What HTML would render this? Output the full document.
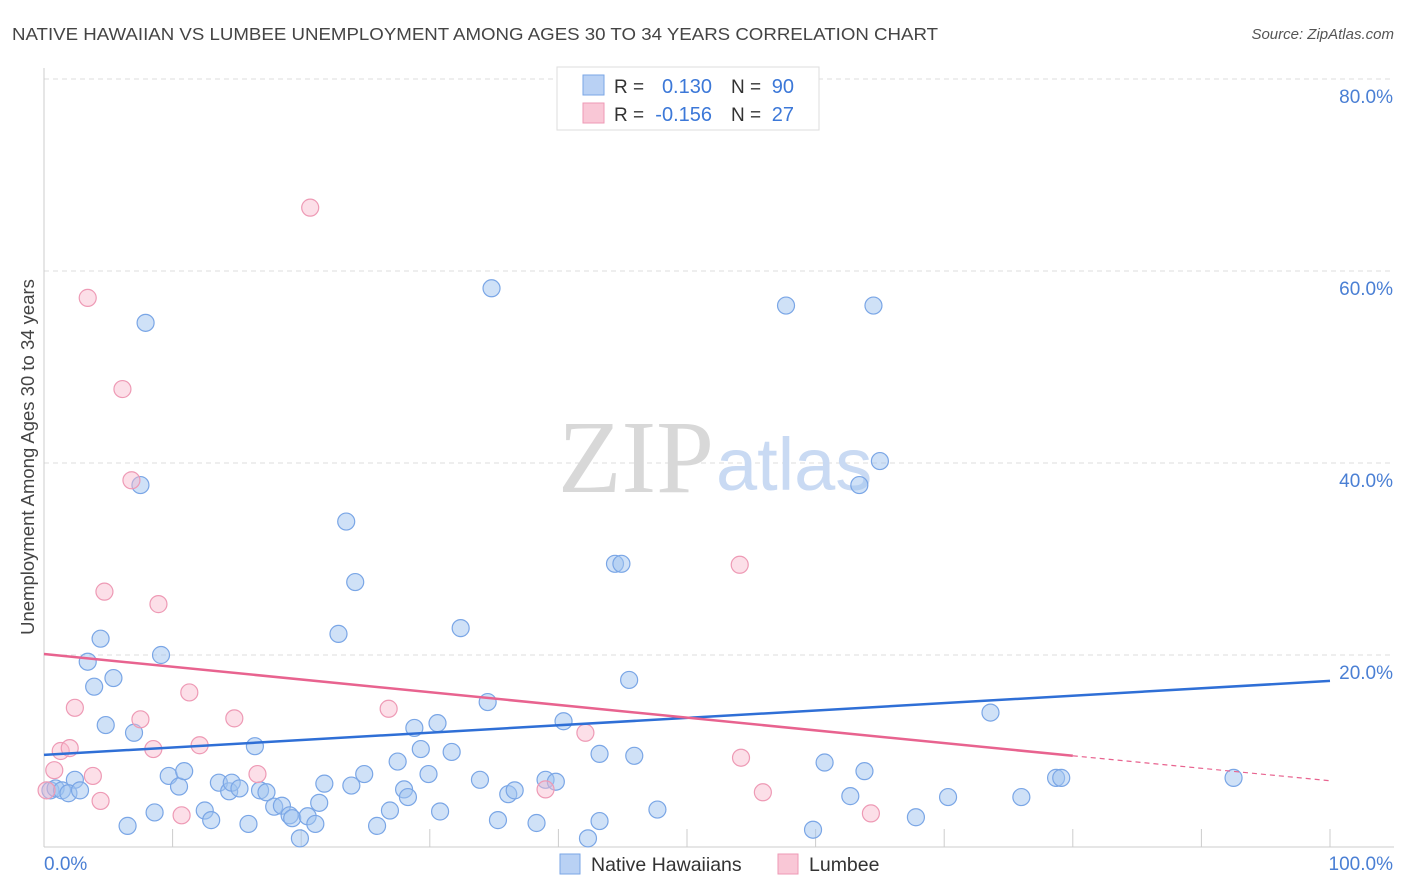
<!DOCTYPE html>
<html><head><meta charset="utf-8"><style>
body{margin:0;background:#fff;font-family:"Liberation Sans",sans-serif}
#wrap{position:relative;width:1406px;height:892px;overflow:hidden}
</style></head><body><div id="wrap">
<svg id="svg" width="1406" height="892" xmlns="http://www.w3.org/2000/svg"></svg>
</div>
<script>
const blueX=[0.5,0.9,1.4,2.4,1.9,2.8,3.4,3.9,4.4,4.8,5.4,6.5,7,7.9,7.5,8.6,9.1,9.7,10.5,10.9,12.5,13,13.6,14.4,14.6,15.2,15.9,16.4,16.8,17.3,17.9,18.5,19.1,19.3,19.9,20.5,21.1,21.4,21.8,22.9,23.5,23.9,24.2,24.9,25.9,26.9,27.5,28,28.3,28.8,29.3,29.9,30.6,30.8,31.7,32.4,33.9,34.5,35.3,36.1,36.6,38.3,39,39.8,40.4,42.3,43.2,43.2,44.4,44.9,45.5,45.9,47.7,57.7,59.8,60.7,62.7,63.4,63.8,64.5,65,67.8,70.3,73.6,76,78.7,79.1,92.5,34.8];
const blueY=[5.9,6.1,5.9,7,5.6,5.9,19.3,16.7,21.7,12.7,17.6,2.2,11.9,54.6,37.7,3.6,20,7.4,6.3,7.9,3.8,2.8,6.7,5.8,6.7,6.1,2.4,10.5,5.9,5.7,4.2,4.3,3.3,3,0.9,3.2,2.4,4.6,6.6,22.2,33.9,6.4,27.6,7.6,2.2,3.8,8.9,6,5.2,12.4,10.2,7.6,12.9,3.7,9.9,22.8,7,15.1,2.8,5.5,5.9,2.5,7,6.8,13.1,0.9,2.7,9.7,29.5,29.5,17.4,9.5,3.9,56.4,1.8,8.8,5.3,37.7,7.9,56.4,40.2,3.1,5.2,14,5.2,7.2,7.2,7.2,58.2];
const pinkX=[0.2,0.8,1.3,2,2.4,3.4,3.8,4.4,4.7,6.1,6.8,7.5,8.5,8.9,10.7,11.3,12.1,14.8,16.6,20.7,26.8,39,42.1,54.1,54.2,55.9,64.3];
const pinkY=[5.9,8,10,10.3,14.5,57.2,7.4,4.8,26.6,47.7,38.2,13.3,10.2,25.3,3.3,16.1,10.6,13.4,7.6,66.6,14.4,6,11.9,29.4,9.3,5.7,3.5];
const yTicks=[20,40,60,80];
const blueTrend=[9.6,17.3];
const pinkTrend=[20.1,9.5,6.9]; // at 0, 80, 100
const svg=document.getElementById('svg');const NS='http://www.w3.org/2000/svg';
const X=v=>44+v*12.86, Y=v=>847-v*9.6;
function mk(t,a,p){const e=document.createElementNS(NS,t);for(const k in a)e.setAttribute(k,a[k]);(p||svg).appendChild(e);return e;}
function tx(x,y,s,opt){const e=mk('text',Object.assign({x:x,y:y},opt));e.textContent=s;return e;}
let e;
e=tx(12,40,'NATIVE HAWAIIAN VS LUMBEE UNEMPLOYMENT AMONG AGES 30 TO 34 YEARS CORRELATION CHART',{'font-size':17.5,fill:'#444',textLength:926,lengthAdjust:'spacingAndGlyphs'});


e=tx(1394,39,'Source: ZipAtlas.com',{'font-size':15,fill:'#555','text-anchor':'end','font-style':'italic'});


yTicks.forEach(t=>{
 e=mk('line',{x1:44,x2:1394,y1:Y(t),y2:Y(t),stroke:'#ddd','stroke-dasharray':'5,4'});
 
 
 e=tx(1393,Y(t)+24,t.toFixed(1)+'%',{'font-size':19,fill:'#4a7fd4','text-anchor':'end'});
 
 
});
e=mk('line',{x1:44,x2:44,y1:68,y2:847,stroke:'#ccc'});


e=mk('line',{x1:44,x2:1394,y1:847,y2:847,stroke:'#ccc'});


for(let i=1;i<=10;i++){e=mk('line',{x1:X(i*10),x2:X(i*10),y1:829,y2:847,stroke:'#ccc'});
 
 }
e=tx(44,870,'0.0%',{'font-size':19,fill:'#4a7fd4'});


e=tx(1393,870,'100.0%',{'font-size':19,fill:'#4a7fd4','text-anchor':'end'});


e=tx(0,0,'Unemployment Among Ages 30 to 34 years',{'font-size':18.5,fill:'#444','text-anchor':'middle',transform:'translate(34,457) rotate(-90)'});


e=tx(714,492,'ZIP',{'font-size':104,fill:'#d8d8d8','text-anchor':'end','font-family':'Liberation Serif'});


e=tx(716,490,'atlas',{'font-size':74,fill:'#c9daf3'});


blueX.forEach((v,i)=>{e=mk('circle',{cx:X(v),cy:Y(blueY[i]),r:8.5,fill:'rgba(160,195,240,0.5)',stroke:'#7aa6e6','stroke-width':1.2});
 
 });
pinkX.forEach((v,i)=>{e=mk('circle',{cx:X(v),cy:Y(pinkY[i]),r:8.5,fill:'rgba(248,185,205,0.45)',stroke:'#ee9ab5','stroke-width':1.2});
 
 });
e=mk('line',{x1:X(0),y1:Y(blueTrend[0]),x2:X(100),y2:Y(blueTrend[1]),stroke:'#2f6fd6','stroke-width':2.5});


e=mk('line',{x1:X(0),y1:Y(pinkTrend[0]),x2:X(80),y2:Y(pinkTrend[1]),stroke:'#e8638f','stroke-width':2.5});


e=mk('line',{x1:X(80),y1:Y(pinkTrend[1]),x2:X(100),y2:Y(pinkTrend[2]),stroke:'#e8638f','stroke-width':1.2,'stroke-dasharray':'5,4'});


e=mk('rect',{x:557,y:67,width:262,height:63,fill:'#fff',stroke:'#ddd'});


e=mk('rect',{x:583,y:75,width:21,height:20,fill:'#b9d1f4',stroke:'#7aa6e6'});


e=mk('rect',{x:583,y:103,width:21,height:20,fill:'#f9c7d6',stroke:'#ee9ab5'});


[[93,'0.130','90'],[121,'-0.156','27']].forEach(r=>{
 e=tx(614,r[0],'R =',{'font-size':19,fill:'#333'});
 
 
 e=tx(712,r[0],r[1],{'font-size':20,fill:'#3c78d8','text-anchor':'end'});
 
 
 e=tx(731,r[0],'N =',{'font-size':19,fill:'#333'});
 
 
 e=tx(794,r[0],r[2],{'font-size':20,fill:'#3c78d8','text-anchor':'end'});
 
 
});
e=mk('rect',{x:560,y:854,width:20,height:20,fill:'#b9d1f4',stroke:'#7aa6e6'});


e=tx(591,871,'Native Hawaiians',{'font-size':19.5,fill:'#333'});


e=mk('rect',{x:778,y:854,width:20,height:20,fill:'#f9c7d6',stroke:'#ee9ab5'});


e=tx(809,871,'Lumbee',{'font-size':19.5,fill:'#333'});


</script></body></html>
